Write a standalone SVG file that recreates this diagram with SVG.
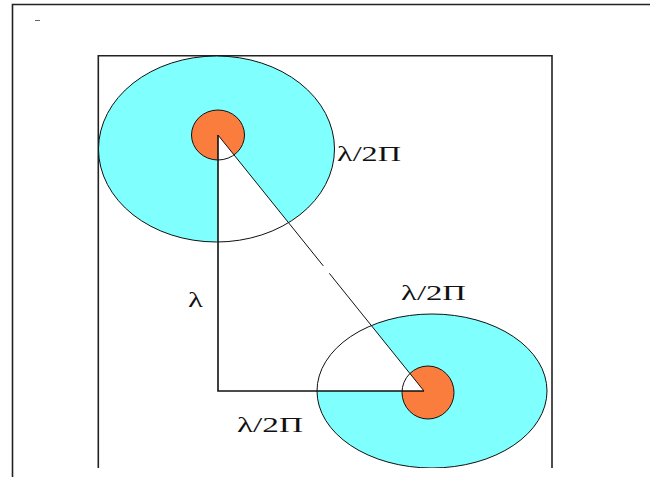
<svg xmlns="http://www.w3.org/2000/svg" width="650" height="477" viewBox="0 0 650 477">
<style>
.frame{fill:none;stroke:#222;stroke-width:1.6}
.halo{fill:#80FFFF;stroke:none}
.core{fill:#FA7D3E;stroke:none}
.outline{fill:none;stroke:#111;stroke-width:1}
.wedge{fill:#fff;stroke:none}
.leg{fill:none;stroke:#111;stroke-width:1.6}
.diag{fill:none;stroke:#111;stroke-width:1}
.lbl{font-family:"Liberation Serif","Times New Roman",serif;font-size:22px;fill:#111}
</style>
<defs>
<clipPath id="clipTop"><ellipse cx="216.5" cy="149" rx="118" ry="93"/></clipPath>
<clipPath id="clipBot"><ellipse cx="432" cy="391" rx="115" ry="77"/></clipPath>
<clipPath id="clipPage"><rect x="0" y="0" width="650" height="468"/></clipPath>
</defs>
<rect width="650" height="477" fill="#fff"/>
<g id="page-frame">
<polyline class="frame" points="12.5,477 12.5,4.5 650,4.5"/>
<line x1="35" y1="20.5" x2="40" y2="20.5" stroke="#666" stroke-width="1"/>
<polyline class="frame" points="98.3,468 98.3,55.7 552,55.7 552,468"/>
</g>
<g id="top-source">
<ellipse class="halo" cx="216.5" cy="149" rx="118" ry="93"/>
<ellipse class="core" cx="218" cy="135" rx="26.5" ry="25"/>
<polygon class="wedge" clip-path="url(#clipTop)" points="218,135 218,400 431,400"/>
<ellipse class="outline" cx="216.5" cy="149" rx="118" ry="93"/>
<ellipse class="outline" cx="218" cy="135" rx="26.5" ry="25"/>
</g>
<g id="bottom-source" clip-path="url(#clipPage)">
<ellipse class="halo" cx="432" cy="391" rx="115" ry="77"/>
<ellipse class="core" cx="428" cy="392.5" rx="26" ry="26.5"/>
<polygon class="wedge" clip-path="url(#clipBot)" points="424,391 200,391 200,112.6"/>
<ellipse class="outline" cx="432" cy="391" rx="115" ry="77"/>
<ellipse class="outline" cx="428" cy="392.5" rx="26" ry="26.5"/>
</g>
<g id="connectors">
<polyline class="leg" points="218,135 218,391 424,391"/>
<line class="diag" x1="218" y1="135" x2="323.3" y2="265.9"/>
<line class="diag" x1="329.3" y1="273.3" x2="424" y2="391"/>
</g>
<g id="labels">
<text class="lbl" x="337" y="161" textLength="64" lengthAdjust="spacingAndGlyphs">λ/2Π</text>
<text class="lbl" x="401" y="300" textLength="65" lengthAdjust="spacingAndGlyphs">λ/2Π</text>
<text class="lbl" x="237" y="432" textLength="66" lengthAdjust="spacingAndGlyphs">λ/2Π</text>
<text class="lbl" x="188" y="307" textLength="15" lengthAdjust="spacingAndGlyphs">λ</text>
</g>
</svg>
